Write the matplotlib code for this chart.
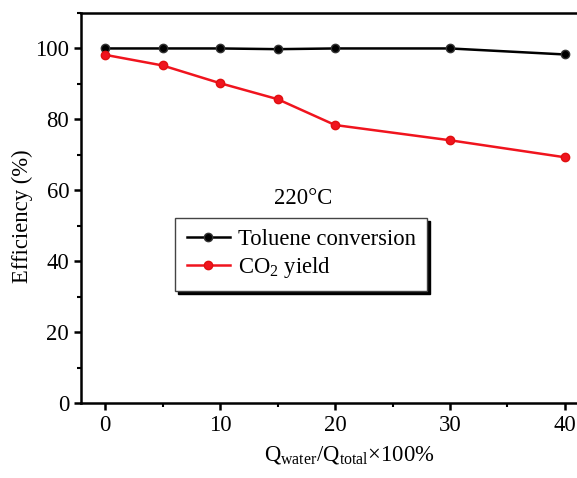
import numpy as np
import matplotlib
matplotlib.use("Agg")
import matplotlib.pyplot as plt
from matplotlib.ticker import MultipleLocator

plt.rcParams['font.family'] = ['Liberation Serif', 'DejaVu Serif']
plt.rcParams['mathtext.fontset'] = 'custom'
plt.rcParams['mathtext.rm'] = 'Liberation Serif'
plt.rcParams['mathtext.it'] = 'Liberation Serif'

# water ratio (%)
water_ratio = [0, 5, 10, 15, 20, 30, 40]
toluene_conversion = [100.0, 100.0, 100.0, 99.8, 100.0, 100.0, 98.3]
co2_yield = [98.2, 95.2, 90.2, 85.7, 78.4, 74.1, 69.3]

FS = 16.3

fig = plt.figure(figsize=(5.77, 4.78), dpi=100)
ax = fig.add_axes([0.1404, 0.157, 0.8596, 0.8158])

ax.plot(water_ratio, toluene_conversion, color='black', lw=1.8, marker='o',
        ms=6, mfc='black', mec='#333333', label='Toluene conversion')
ax.plot(water_ratio, co2_yield, color='#f0141e', lw=1.8, marker='o',
        ms=6, mfc='#f0141e', mec='#e01010', label='CO$_2$ yield')

ax.set_xlim(-2.1, 41.05)
ax.set_ylim(0, 110)
ax.xaxis.set_major_locator(MultipleLocator(10))
ax.xaxis.set_minor_locator(MultipleLocator(5))
ax.yaxis.set_major_locator(MultipleLocator(20))
ax.yaxis.set_minor_locator(MultipleLocator(10))

for s in ['left', 'top', 'bottom']:
    ax.spines[s].set_linewidth(1.8)
ax.spines['right'].set_visible(False)

ax.tick_params(which='major', direction='out', length=5, width=1.8, labelsize=FS)
ax.tick_params(which='minor', direction='out', length=3, width=1.5)
ax.tick_params(axis='y', which='both', right=False)
ax.tick_params(axis='x', which='both', top=False)

ax.set_ylabel('Efficiency (%)', fontsize=FS)
ax.yaxis.set_label_coords(-0.097, 0.48)
ax.set_xlabel('Q$_{\\rm water}$/Q$_{\\rm total}$×100%', fontsize=FS)
ax.xaxis.set_label_coords(0.54, -0.105)

ax.text(17.2, 57.7, '220°C', fontsize=FS, ha='center', va='center')

leg = ax.legend(loc='upper left', bbox_to_anchor=(0.19, 0.475), borderaxespad=0,
                fontsize=FS, frameon=True, fancybox=False,
                shadow={'color': 'black', 'alpha': 1},
                handlelength=1.9, labelspacing=0.2, borderpad=0.5,
                handletextpad=0.35)
leg.get_frame().set_edgecolor('#444444')
leg.get_frame().set_linewidth(1.0)

fig.savefig('out.png', dpi=100)
